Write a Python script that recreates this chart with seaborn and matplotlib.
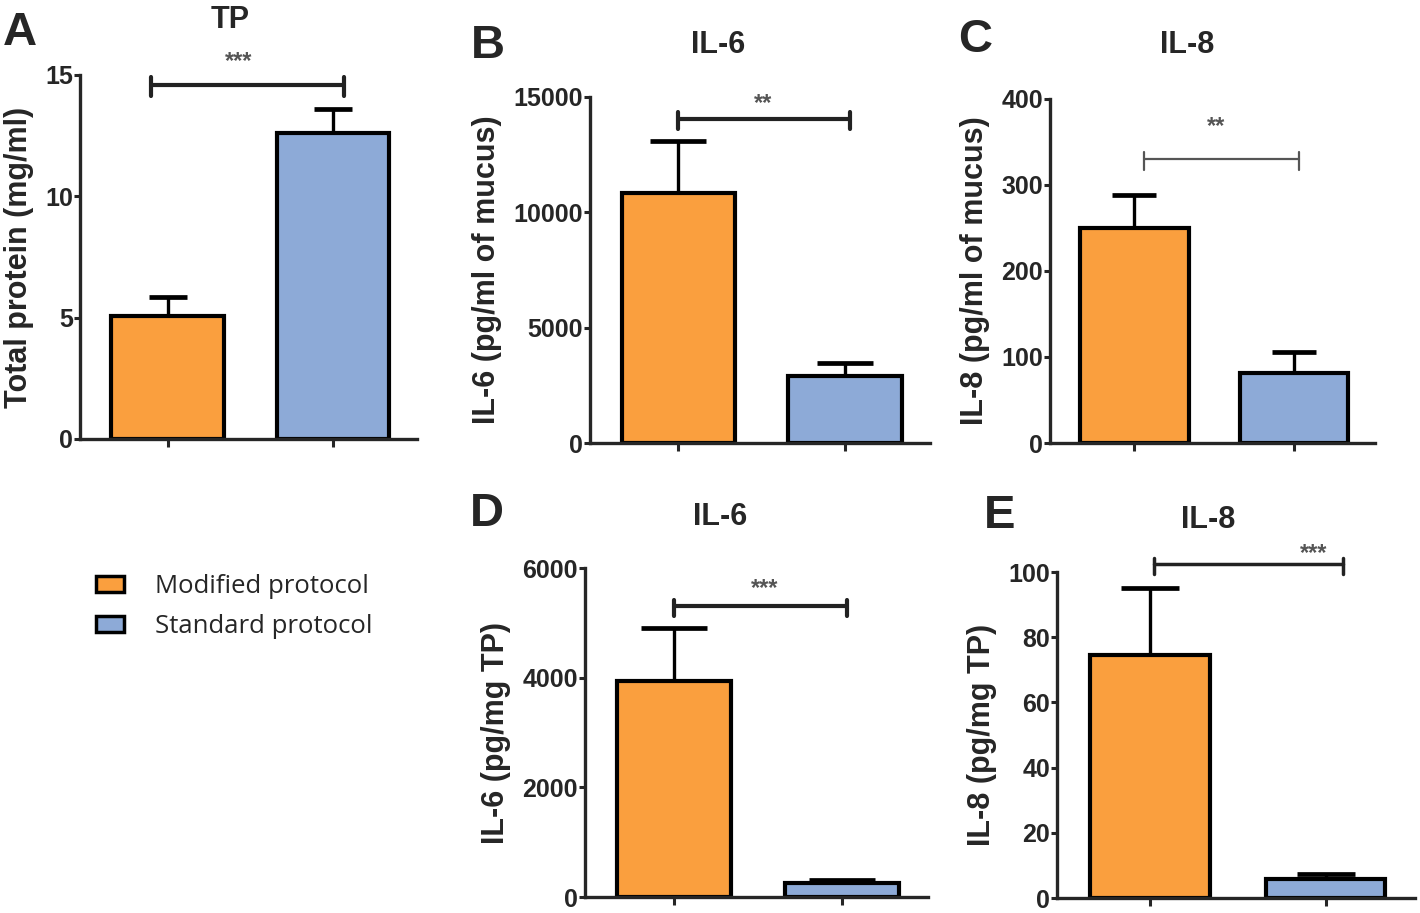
import pandas as pd
import matplotlib
matplotlib.use("Agg")
import matplotlib.pyplot as plt
import seaborn as sns
from matplotlib.patches import Patch

# ---- data ----
groups = ["Modified protocol", "Standard protocol"]
colors = ["#FA9F3E", "#8DAAD7"]

tp_mean = [5.05, 12.6]
tp_err = [0.8, 1.0]
il6_mucus_mean = [10850, 2900]
il6_mucus_err = [2250, 560]
il8_mucus_mean = [250, 81]
il8_mucus_err = [38, 25]
il6_tp_mean = [3940, 255]
il6_tp_err = [965, 55]
il8_tp_mean = [74.5, 5.8]
il8_tp_err = [20.5, 1.6]

sig_labels = ["***", "**", "**", "***", "***"]
sig_levels = [14.6, 14050, 330, 5300, 102.4]

W, H = 1420, 913


def fx(x):
    return x / W


def fy(y):
    return 1 - y / H


sns.set_style("ticks")
plt.rcParams["font.family"] = ["Liberation Sans", "DejaVu Sans"]
plt.rcParams["font.weight"] = "bold"

fig = plt.figure(figsize=(14.2, 9.13), dpi=100)

# panel layout in pixels: left, right, bottom, top
panels = [
    dict(letter="A", title="TP", ylabel="Total protein (mg/ml)", mean=tp_mean, err=tp_err,
         box=(80, 417, 439, 75), ymax=15, step=5, letter_xy=(20, 33), title_xy=(230, 20),
         br=(-0.10, 1.07), star_xy=(0.43, 15.55), br_lw=3, br_col="#222222", cap=14),
    dict(letter="B", title="IL-6", ylabel="IL-6 (pg/ml of mucus)", mean=il6_mucus_mean, err=il6_mucus_err,
         box=(590, 930, 443, 97), ymax=15000, step=5000, letter_xy=(488, 46), title_xy=(718, 45),
         br=(0.0, 1.03), star_xy=(0.51, 14700), br_lw=3, br_col="#222222", cap=20),
    dict(letter="C", title="IL-8", ylabel="IL-8 (pg/ml of mucus)", mean=il8_mucus_mean, err=il8_mucus_err,
         box=(1050, 1375, 443, 99), ymax=400, step=100, letter_xy=(975, 40), title_xy=(1187, 45),
         br=(0.06, 1.03), star_xy=(0.51, 368), br_lw=1.6, br_col="#555555", cap=16),
    dict(letter="D", title="IL-6", ylabel="IL-6 (pg/mg TP)", mean=il6_tp_mean, err=il6_tp_err,
         box=(585, 928, 897, 568), ymax=6000, step=2000, letter_xy=(487, 514), title_xy=(720, 517),
         br=(0.0, 1.03), star_xy=(0.54, 5620), br_lw=3, br_col="#222222", cap=24),
    dict(letter="E", title="IL-8", ylabel="IL-8 (pg/mg TP)", mean=il8_tp_mean, err=il8_tp_err,
         box=(1057, 1415, 898, 572), ymax=100, step=20, letter_xy=(1000, 516), title_xy=(1208, 520),
         br=(0.02, 1.10), star_xy=(0.93, 105.8), br_lw=2.5, br_col="#222222", cap=21),
]

for i, p in enumerate(panels):
    l, r, b, t = p["box"]
    ax = fig.add_axes([fx(l), fy(b), fx(r - l), (b - t) / H])
    df = pd.DataFrame({"group": groups, "value": p["mean"]})
    sns.barplot(data=df, x="group", y="value", hue="group", palette=colors, width=0.68,
                saturation=1, edgecolor="black", linewidth=3, errorbar=None, legend=False, ax=ax)
    ax.errorbar([0, 1], p["mean"], yerr=[[0, 0], p["err"]], fmt="none", ecolor="black",
                elinewidth=2.4, capsize=p["cap"], capthick=3.4, zorder=0.5)
    ax.set_xlim(-0.53, 1.51)
    ax.set_ylim(0, p["ymax"])
    ax.set_yticks(range(0, p["ymax"] + 1, p["step"]))
    ax.set_xticks([0, 1])
    ax.set_xticklabels([])
    ax.set_xlabel("")
    ax.set_ylabel(p["ylabel"], fontsize=22, fontweight="bold", labelpad=8)
    sns.despine(ax=ax)
    for s in ["left", "bottom"]:
        ax.spines[s].set_linewidth(2.4)
    ax.tick_params(axis="y", length=4, width=2.2, pad=1, labelsize=18)
    ax.tick_params(axis="x", length=6, width=2.2)
    for lab in ax.get_yticklabels():
        lab.set_fontweight("bold")

    # significance bracket
    x0, x1 = p["br"]
    yb = sig_levels[i]
    ax.plot([x0, x1], [yb, yb], color=p["br_col"], lw=p["br_lw"], clip_on=False)
    for xe in (x0, x1):
        ax.plot([xe, xe], [yb - p["ymax"] * 0.03, yb + p["ymax"] * 0.02], color=p["br_col"],
                lw=p["br_lw"], clip_on=False)
    ax.text(p["star_xy"][0], p["star_xy"][1], sig_labels[i], ha="center", va="center",
            fontsize=17, color="#555555", fontweight="bold")

    fig.text(fx(p["title_xy"][0]), fy(p["title_xy"][1]), p["title"], ha="center", va="center",
             fontsize=22, fontweight="bold")
    fig.text(fx(p["letter_xy"][0]), fy(p["letter_xy"][1]), p["letter"], ha="center", va="center",
             fontsize=34, fontweight="bold")

handles = [Patch(facecolor=c, edgecolor="black", linewidth=2.5) for c in colors]
fig.legend(handles, groups, loc="upper left", bbox_to_anchor=(fx(96), fy(574)), frameon=False,
           handlelength=1.1, handleheight=0.6, handletextpad=1.2, labelspacing=0.58,
           borderpad=0, borderaxespad=0,
           prop={"family": "Open Sans", "size": 18.5, "weight": "normal"})

fig.savefig("out.png", dpi=100)
